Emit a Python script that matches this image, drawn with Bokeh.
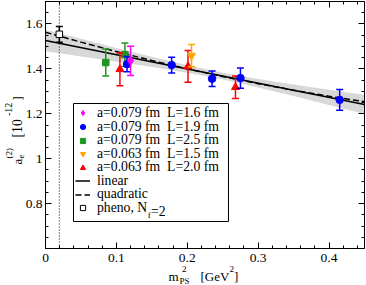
import math
from bokeh.plotting import figure
from bokeh.models import (Range1d, LinearAxis, FixedTicker, CustomJSTickFormatter,
                          Label, Legend, LegendItem, BoxAnnotation)
from bokeh.embed import file_html
from bokeh.resources import INLINE

# ---------------- data ----------------
phys_x = 0.0195

pheno_x = [0.0195]
pheno_y = [1.554]
pheno_err = [0.035]

mag_x = [0.120]
mag_y = [1.436]
mag_err = [0.065]

blue_x = [0.115, 0.178, 0.235, 0.275, 0.415]
blue_y = [1.421, 1.417, 1.356, 1.359, 1.262]
blue_err = [0.034, 0.035, 0.035, 0.045, 0.046]

green_x = [0.085, 0.112]
green_y = [1.428, 1.463]
green_err = [0.060, 0.052]

orange_x = [0.206]
orange_y = [1.459]
orange_err = [0.050]

red_x = [0.105, 0.201, 0.268]
red_y = [1.398, 1.411, 1.318]
red_err = [0.073, 0.071, 0.050]

lin_x = [0.0, 0.45]
lin_y = [1.526, 1.241]

quad_x = [0.0, 0.05, 0.10, 0.15, 0.20, 0.25, 0.30, 0.35, 0.40, 0.45]
quad_y = [1.563, 1.519, 1.477, 1.437, 1.400, 1.366, 1.334, 1.305, 1.278, 1.254]

band_x = [0.0, 0.05, 0.10, 0.15, 0.20, 0.25, 0.30, 0.35, 0.40, 0.45]
band_hi = [1.574, 1.534, 1.493, 1.454, 1.416, 1.383, 1.355, 1.330, 1.307, 1.284]
band_lo = [1.478, 1.455, 1.432, 1.408, 1.383, 1.353, 1.317, 1.279, 1.239, 1.199]

x_ticks = [0.0, 0.1, 0.2, 0.3, 0.4]
y_ticks = [0.8, 1.0, 1.2, 1.4, 1.6]
x_lim = (0.0, 0.45)
y_lim = (0.6, 1.7)

legend_labels = ["a=0.079 fm\u00a0 L=1.6 fm", "a=0.079 fm\u00a0 L=1.9 fm",
                 "a=0.079 fm\u00a0 L=2.5 fm", "a=0.063 fm\u00a0 L=1.5 fm",
                 "a=0.063 fm\u00a0 L=2.0 fm", "linear", "quadratic", "pheno, N"]

FONT = "Liberation Serif"
LFS = "13.7px"

# ---------------- layout (pixels) ----------------
W, H = 366, 285
PL, PR, PT, PB = 45, 364, 1, 248          # plot box edges in canvas pixels
sx = (PR - PL) / (x_lim[1] - x_lim[0])
sy = (PB - PT) / (y_lim[1] - y_lim[0])
xr = Range1d(x_lim[0] - PL / sx, x_lim[1] + (W - PR) / sx)
yr = Range1d(y_lim[0] - (H - PB) / sy, y_lim[1] + PT / sy)

p = figure(width=W, height=H, x_range=xr, y_range=yr,
           x_axis_type=None, y_axis_type=None, output_backend="svg",
           toolbar_location=None, min_border=0)
p.outline_line_color = None
p.background_fill_color = "white"
p.border_fill_color = "white"

x_minor = [round(0.02 * i, 4) for i in range(23)]
y_minor = [round(0.6 + 0.05 * i, 4) for i in range(23)]


def make_axis(ticks, minor, labelled, loc, bounds):
    ax = LinearAxis(ticker=FixedTicker(ticks=ticks, minor_ticks=minor),
                    fixed_location=loc, bounds=bounds)
    ax.major_tick_in = 6
    ax.major_tick_out = 0
    ax.minor_tick_in = 3
    ax.minor_tick_out = 0
    ax.axis_line_color = "black"
    ax.axis_line_width = 1
    ax.major_tick_line_color = "black"
    ax.minor_tick_line_color = "black"
    if labelled:
        ax.formatter = CustomJSTickFormatter(code="return (Math.round(tick*10)/10).toString();")
        ax.major_label_text_font = FONT
        ax.major_label_text_font_size = "13.5px"
        ax.major_label_text_color = "black"
    else:
        ax.formatter = CustomJSTickFormatter(code="return '';")
        ax.major_label_text_font_size = "1px"
        ax.major_label_standoff = 0
    return ax


xb = make_axis(x_ticks, x_minor, True, y_lim[0], x_lim)
xb.major_label_standoff = 5
yl = make_axis(y_ticks, y_minor, True, x_lim[0], y_lim)
yl.major_label_standoff = 3
p.add_layout(xb, "below")
p.add_layout(yl, "left")
p.add_layout(make_axis(x_ticks, x_minor, False, y_lim[1], x_lim), "above")
p.add_layout(make_axis(y_ticks, y_minor, False, x_lim[1], y_lim), "right")

# error band of linear fit
p.varea(x=band_x, y1=band_lo, y2=band_hi, fill_color="#d8d8d8")

# physical point (dotted vertical line across the plot box)
p.segment(x0=[phys_x], y0=[y_lim[0]], x1=[phys_x], y1=[y_lim[1]],
          line_color="black", line_width=1, line_dash="1 2")

# fits
r_lin = p.line(lin_x, lin_y, line_color="black", line_width=1.5)
r_quad = p.line(quad_x, quad_y, line_color="black", line_width=1.5, line_dash="6 3")


def series(xs, ys, errs, color, marker, size, fill=None):
    lo = [y - e for y, e in zip(ys, errs)]
    hi = [y + e for y, e in zip(ys, errs)]
    p.segment(x0=xs, y0=lo, x1=xs, y1=hi, line_color=color, line_width=1.5)
    p.scatter(xs, lo, marker="dash", size=7, line_color=color, line_width=1.5)
    p.scatter(xs, hi, marker="dash", size=7, line_color=color, line_width=1.5)
    fc = color if fill is None else fill
    return p.scatter(xs, ys, marker=marker, size=size, fill_color=fc,
                     line_color=color, line_width=1)


r_pheno = series(pheno_x, pheno_y, pheno_err, "black", "square", 6.5, fill="white")
r_green = series(green_x, green_y, green_err, "#1f961f", "square", 6.5)
r_red = series(red_x, red_y, red_err, "#ff0000", "triangle", 8)
r_orange = series(orange_x, orange_y, orange_err, "#ffa500", "inverted_triangle", 8)
r_blue = series(blue_x, blue_y, blue_err, "#0000ff", "circle", 7.5)
r_mag = series(mag_x, mag_y, mag_err, "#ff00ff", "diamond", 9)

# legend frame (canvas-relative screen units, y up)
p.add_layout(BoxAnnotation(left=73, right=228, bottom=H - 221, top=H - 103,
                           left_units="screen", right_units="screen",
                           bottom_units="screen", top_units="screen",
                           fill_color="white", fill_alpha=1.0,
                           line_color="black", line_width=1, line_alpha=1.0))

rends = [r_mag, r_blue, r_green, r_orange, r_red, r_lin, r_quad, r_pheno]
ROW = 13.57
ROW_H = 18.5
FIRST = H - 111.7
for k, (l, r) in enumerate(zip(legend_labels, rends)):
    center = FIRST - ROW * k
    lg = Legend(items=[LegendItem(label=l, renderers=[r])],
                location=(75, center - ROW_H / 2), border_line_color=None,
                background_fill_alpha=0.0, padding=0, margin=0, spacing=0,
                glyph_width=15, glyph_height=13, label_height=13, label_standoff=7,
                label_text_font=FONT, label_text_font_size=LFS,
                label_text_color="black")
    p.add_layout(lg)


def lab(text, x, y, size, angle=0.0, baseline="alphabetic"):
    p.add_layout(Label(text=text, x=x, y=y, x_units="screen", y_units="screen",
                       text_font=FONT, text_font_size=size, text_color="black",
                       angle=angle, text_align="left", text_baseline=baseline))


# subscript f in the pheno legend entry
pheno_center = FIRST - ROW * 7
lab("f", 147.2, pheno_center - 8, "9px")
lab("=2", 150.5, pheno_center - 4.5, LFS)

# x axis label: m^2_PS [GeV^2]
lab("m", 168, 9.5, "13px")
lab("2", 181.5, 17, "9px")
lab("PS", 179, 4.5, "9px")
lab("[GeV", 200, 9.5, "13px")
lab("2", 229, 17, "9px")
lab("]", 233.5, 9.5, "13px")

# y axis label: a_e^(2) [10^-12]
R = math.pi / 2
lab("a", 17, 121, "13px", angle=R)
lab("e", 20, 127, "9px", angle=R)
lab("(2)", 8, 127, "9px", angle=R)
lab("[10", 17, 148, "13.7px", angle=R)
lab("-12", 8, 169.5, "10px", angle=R)
lab("]", 17, 185, "13px", angle=R)

open("out.html", "w").write(file_html(p, INLINE))
